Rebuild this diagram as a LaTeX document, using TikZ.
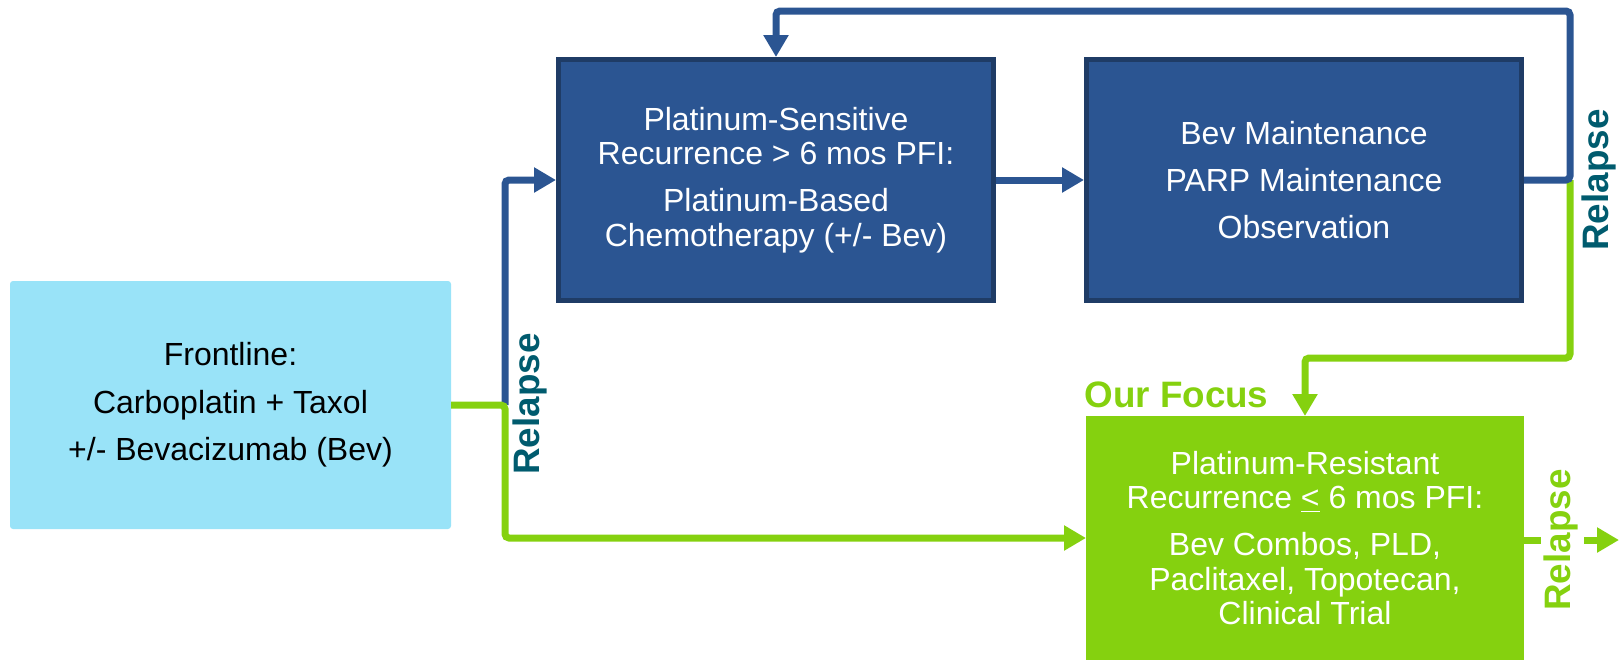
\documentclass[tikz,border=0pt]{standalone}
\usepackage{fontspec}
\setmainfont{Liberation Sans}
\usetikzlibrary{arrows.meta}
\definecolor{dblue}{HTML}{2B5592}
\definecolor{dborder}{HTML}{1F3C66}
\definecolor{lblue}{HTML}{99E3F8}
\definecolor{lgreen}{HTML}{85D10F}
\definecolor{relteal}{HTML}{005B6E}
\begin{document}
\begin{tikzpicture}[x=0.5pt,y=-0.5pt,
  box/.style={rectangle, align=center, inner sep=0pt, outer sep=0pt,
    font=\fontsize{16}{17.2}\selectfont},
  bluebox/.style={box, fill=dblue, draw=dborder, line width=2.5pt, text=white,
    minimum width=217.5pt, minimum height=120.5pt, outer sep=1.25pt},
  bline/.style={draw=dblue, line width=3.5pt, rounded corners=2pt},
  gline/.style={draw=lgreen, line width=3.5pt, rounded corners=2pt},
  arr/.style={-{Triangle[length=11pt,width=12pt]}},
  rlabel/.style={rotate=90, font=\fontsize{18.4}{20}\selectfont\bfseries, inner sep=0pt}
]
\useasboundingbox (0,0) rectangle (1619,660);

\node[box, fill=lblue, rounded corners=1.5pt, minimum width=220.5pt, minimum height=124pt] (front) at (230.5,405)
  {Frontline:\\[6.5pt]Carboplatin + Taxol\\[6.5pt]+/- Bevacizumab (Bev)};
\node[bluebox] (ps) at (776,180)
  {Platinum-Sensitive\\Recurrence > 6 mos PFI:\\[6.5pt]Platinum-Based\\Chemotherapy (+/- Bev)};
\node[bluebox] (bev) at (1304,180)
  {Bev Maintenance\\[6.5pt]PARP Maintenance\\[6.5pt]Observation};
\node[box, fill=lgreen, text=white, minimum width=219pt, minimum height=122pt] (pr) at (1305,538)
  {Platinum-Resistant\\Recurrence \underline{<} 6 mos PFI:\\[6.5pt]Bev Combos, PLD,\\Paclitaxel, Topotecan,\\Clinical Trial};

\node[anchor=base west, inner sep=0pt, text=lgreen, font=\fontsize{18.4}{20}\selectfont\bfseries] (focus) at (1084,407) {Our Focus};

\coordinate (j1) at (505,405);
\coordinate (j2) at (1570,180);
\coordinate (ga) at (1541,540);
\coordinate (gb) at (1584,540);
\coordinate (gend) at (1619,540);

% left branch
\draw[bline, arr] (j1) -- (505,180) -- (ps.west);
\draw[gline, arr] (front.east) -- (j1) -- (505,538) -- (pr.west);

% middle
\draw[bline, arr] (ps.east) -- (bev.west);

% right loop
\draw[gline, arr] (j2) -- (1570,358) -- (1305,358) -- (pr.north);
\draw[bline, arr] (bev.east) -- (j2) -- (1570,11) -- (776,11) -- (ps.north);

% bottom right
\draw[draw=lgreen, line width=3.5pt] (pr.east |- ga) -- (ga);
\draw[draw=lgreen, line width=3.5pt, arr] (gb) -- (gend);

\node[rlabel, text=relteal] (rl1) at (530,404) {Relapse};
\node[rlabel, text=relteal] (rl2) at (1599,180) {Relapse};
\node[rlabel, text=lgreen] (rl3) at (1561,540) {Relapse};
\end{tikzpicture}
\end{document}
